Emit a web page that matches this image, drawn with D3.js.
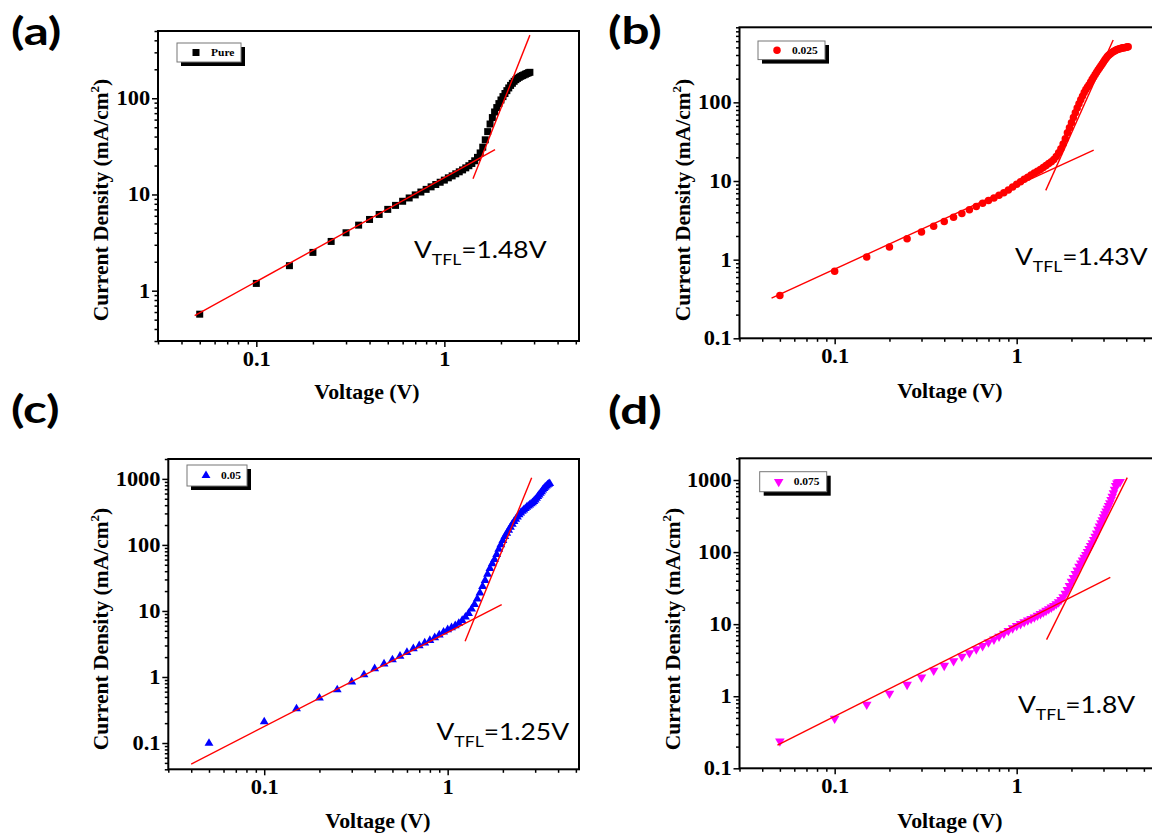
<!DOCTYPE html>
<html>
<head>
<meta charset="utf-8">
<script src="https://cdn.jsdelivr.net/npm/d3@7"></script>
<style>
  body { margin: 0; background: #fff; }
  svg { display: block; }
</style>
</head>
<body>
<div id="chart"></div>
<script>
// voltage steps of the sweep (V), shared by the four samples
var voltage = [0.05,0.10,0.15,0.20,0.25,0.30,0.35,0.40,0.45,0.50,
    0.55,0.60,0.65,0.70,0.75,0.80,0.85,0.90,0.95,1.00,
    1.05,1.10,1.15,1.20,1.25,1.30,1.35,1.40,1.45,1.50,
    1.55,1.60,1.65,1.70,1.75,1.80,1.85,1.90,1.95,2.00,
    2.05,2.10,2.15,2.20,2.25,2.30,2.35,2.40,2.45,2.50,
    2.55,2.60,2.65,2.70,2.75,2.80,2.85,2.90,2.95,3.00,
    3.05,3.10,3.15,3.20,3.25,3.30,3.35,3.40,3.45,3.50,
    3.55,3.60,3.65,3.70,3.75,3.80,3.85,3.90,3.95,4.00,
    4.05,4.10]

// current density (mA/cm2), one value per voltage step
var jPure = [0.57,1.19,1.82,2.50,3.25,4.0,4.8,5.5,6.2,7.0,
    7.7,8.5,9.2,9.9,10.6,11.3,12.0,12.7,13.4,14.1,
    14.9,15.6,16.4,17.2,18.0,18.9,19.9,21.0,22.4,24.3,
    27.0,31,37,45,54,63,72,80,88,96,
    104,112,120,128,136,143,150,156,161,165,
    169,172,175,178,181,184,186]
var j025 = [0.35,0.71,1.08,1.45,1.85,2.25,2.65,3.05,3.45,3.85,
    4.3,4.75,5.2,5.65,6.1,6.6,7.1,7.7,8.4,9.1,
    9.8,10.5,11.2,11.9,12.6,13.3,14.0,14.8,15.7,16.7,
    17.6,18.8,20.5,22.8,25.8,29.5,34.5,41,47.5,55,
    64,74,85,96,108,120,133,146,157,168,
    182,196,210,226,242,258,273,290,308,326,
    345,365,383,398,410,421,432,442,451,459,
    466,472,477,482,486,490,493,496,499,502,
    505,508]
var j05 = [0.099,0.21,0.33,0.48,0.64,0.84,1.08,1.34,1.58,1.82,
    2.07,2.36,2.68,2.98,3.28,3.58,3.95,4.35,4.8,5.2,
    5.6,6.0,6.5,7.2,8.1,9.2,10.7,12.6,15.2,18.8,
    23.5,29,36,44,52,60,72,86,101,117,
    134,150,167,186,206,226,246,266,286,305,
    323,340,356,372,388,404,420,437,455,480,
    508,540,572,605,642,680,715,750,780,810,
    832,850]
var j075 = [0.238,0.49,0.77,1.09,1.45,1.83,2.27,2.66,3.09,3.55,
    3.98,4.5,5.0,5.6,6.15,6.75,7.4,8.1,8.8,9.5,
    10.1,10.7,11.3,11.9,12.5,13.2,13.9,14.6,15.4,16.2,
    17.1,18.0,19.0,20.2,21.7,23.8,26.5,30,34,39,
    44,50,56,63,70,77,84,92,101,111,
    122,134,148,164,182,205,228,252,278,306,
    336,368,403,440,480,530,590,660,740,830,
    900,930,940,945]

// fitted lines [V, J] end points: ohmic part and trap filled part
var fitPure = [[[0.047, 0.55], [1.86, 29.2]], [[1.42, 14.6], [2.85, 453]]]
var fit025 = [[[0.045, 0.324], [2.65, 24.7]], [[1.445, 7.6], [3.39, 622]]]
var fit05 = [[[0.040, 0.048], [1.97, 12.5]], [[1.245, 3.49], [2.87, 1040]]]
var fit075 = [[[0.0485, 0.21], [3.27, 44.5]], [[1.46, 6.1], [4.05, 1080]]]

// tick labels
var xTicks = [0.1, 1]
var yTicksA = [1, 10, 100]
var yTicksB = [0.1, 1, 10, 100]
var yTicksC = [0.1, 1, 10, 100, 1000]
var yTicksD = [0.1, 1, 10, 100, 1000]

var names = ["Pure", "0.025", "0.05", "0.075"]
var vtfl = ["1.48V", "1.43V", "1.25V", "1.8V"]

var serif = "'Liberation Serif', 'Times New Roman', serif"
var sans = "Lato, 'Open Sans', sans-serif"

// layout of the four panels
var panels = [
    {tag: "(a)", tagPos: [11, 45], j: jPure, fits: fitPure, color: "#000000", symbol: d3.symbolSquare, size: 49, rot: 0,
     box: {left: 158, right: 579, top: 31, bottom: 341}, xDomain: [0.03, 5.2], yDomain: [0.3, 500], yTicks: yTicksA,
     legend: [177, 43, 64, 19], vPos: [414, 258], xTitle: [367, 399], yTitle: [107.5, 200]},
    {tag: "(b)", tagPos: [608, 44], j: j025, fits: fit025, color: "#ff0000", symbol: d3.symbolCircle, size: 44, rot: 0,
     box: {left: 739.5, right: 1158.3, top: 27.3, bottom: 338.3}, xDomain: [0.03, 6], yDomain: [0.1, 900], yTicks: yTicksB,
     legend: [758, 41, 67, 18.6], vPos: [1015, 265], xTitle: [950, 398], yTitle: [690, 200]},
    {tag: "(c)", tagPos: [11, 423], j: j05, fits: fit05, color: "#0000ff", symbol: d3.symbolTriangle, size: 34, rot: 0,
     box: {left: 168.3, right: 579, top: 459, bottom: 769.3}, xDomain: [0.03, 5.2], yDomain: [0.04, 2000], yTicks: yTicksC,
     legend: [187, 465, 60, 21], vPos: [436.5, 740], xTitle: [378, 828], yTitle: [108, 629]},
    {tag: "(d)", tagPos: [608, 424], j: j075, fits: fit075, color: "#ff00ff", symbol: d3.symbolTriangle, size: 40, rot: 180,
     box: {left: 739.5, right: 1158.3, top: 458.3, bottom: 768.3}, xDomain: [0.03, 6], yDomain: [0.1, 2000], yTicks: yTicksD,
     legend: [759.7, 471.7, 67, 20], vPos: [1018, 713], xTitle: [950, 828], yTitle: [679.5, 629]}
]

var svg = d3.select("#chart")
    .append("svg")
        .attr("width", 1152)
        .attr("height", 834)

svg.append("rect")
    .attr("width", 1152)
    .attr("height", 834)
    .attr("fill", "#fff")

function isDecade(d){
    var l = Math.log10(d)
    return Math.abs(l - Math.round(l)) < 1e-6
}

// text that is a bit wider than the font, as in the picture
function wideText(g, pos, sx){
    return g.append("text")
        .attr("transform", "translate(" + pos[0] + "," + pos[1] + ") scale(" + sx + ",1)")
}

function drawPanel(p, i){
    var b = p.box
    var x = d3.scaleLog().domain(p.xDomain).range([b.left, b.right])
    var y = d3.scaleLog().domain(p.yDomain).range([b.bottom, b.top])
    var g = svg.append("g")

    // minor ticks
    g.append("g")
        .attr("transform", "translate(0," + b.bottom + ")")
        .call(d3.axisBottom(x).tickValues(x.ticks().filter(d => !isDecade(d))).tickSize(3.5).tickFormat(""))
    g.append("g")
        .attr("transform", "translate(" + b.left + ",0)")
        .call(d3.axisLeft(y).tickValues(y.ticks().filter(d => !isDecade(d))).tickSize(3.5).tickFormat(""))

    // major ticks
    g.append("g")
        .attr("transform", "translate(0," + b.bottom + ")")
        .call(d3.axisBottom(x).tickValues(xTicks).tickSize(6).tickPadding(5).tickFormat(d => String(d)))
    g.append("g")
        .attr("transform", "translate(" + b.left + ",0)")
        .call(d3.axisLeft(y).tickValues(p.yTicks).tickSize(6).tickPadding(1).tickFormat(d => String(d)))

    g.selectAll(".domain").remove()
    g.selectAll(".tick line").attr("stroke", "#000").attr("stroke-width", 1.5)
    g.selectAll(".tick text")
        .attr("fill", "#000")
        .attr("transform", "scale(1.12,1)")
        .style("font-family", serif)
        .style("font-weight", "bold")
        .style("font-size", "20px")

    // frame
    g.append("rect")
        .attr("x", b.left)
        .attr("y", b.top)
        .attr("width", b.right - b.left)
        .attr("height", b.bottom - b.top)
        .attr("fill", "none")
        .attr("stroke", "#000")
        .attr("stroke-width", 2)

    // points
    var n = p.j.length
    var pts = voltage.slice(0, n).map((v, k) => [v, p.j[k]])
    var sym = d3.symbol().type(p.symbol).size(p.size)
    g.append("g")
        .selectAll("path")
        .data(pts)
        .enter()
        .append("path")
            .attr("d", sym)
            .attr("transform", d => "translate(" + x(d[0]) + "," + y(d[1]) + ") rotate(" + p.rot + ")")
            .attr("fill", p.color)

    // fitted lines
    g.append("g")
        .selectAll("line")
        .data(p.fits)
        .enter()
        .append("line")
            .attr("x1", d => x(d[0][0]))
            .attr("y1", d => y(d[0][1]))
            .attr("x2", d => x(d[1][0]))
            .attr("y2", d => y(d[1][1]))
            .attr("stroke", "#ff0000")
            .attr("stroke-width", 1.4)

    // legend
    var L = p.legend
    g.append("rect")
        .attr("x", L[0] + 4).attr("y", L[1] + 4)
        .attr("width", L[2]).attr("height", L[3])
        .attr("fill", "#000")
    g.append("rect")
        .attr("x", L[0]).attr("y", L[1])
        .attr("width", L[2]).attr("height", L[3])
        .attr("fill", "#fff")
        .attr("stroke", "#777")
        .attr("stroke-width", 1)
    g.append("path")
        .attr("d", sym)
        .attr("transform", "translate(" + (L[0] + 19) + "," + (L[1] + L[3] / 2) + ") rotate(" + p.rot + ")")
        .attr("fill", p.color)
    wideText(g, [L[0] + 34, L[1] + L[3] / 2 + 3.5], 1.15)
        .style("font-family", serif)
        .style("font-weight", "bold")
        .style("font-size", "10px")
        .text(names[i])

    // V_TFL note
    var t = wideText(g, p.vPos, 1.1)
        .style("font-family", sans)
        .style("font-size", "24px")
    t.append("tspan").text("V")
    t.append("tspan").attr("dy", 7).style("font-size", "16px").text("TFL")
    t.append("tspan").attr("dy", -7).text("=" + vtfl[i])

    // axis titles
    wideText(g, p.xTitle, 1.04)
        .attr("text-anchor", "middle")
        .style("font-family", serif)
        .style("font-weight", "bold")
        .style("font-size", "21px")
        .text("Voltage (V)")

    var yt = g.append("text")
        .attr("transform", "translate(" + p.yTitle[0] + "," + p.yTitle[1] + ") rotate(-90)")
        .attr("text-anchor", "middle")
        .style("font-family", serif)
        .style("font-weight", "bold")
        .style("font-size", "21.5px")
    yt.append("tspan").text("Current Density (mA/cm")
    yt.append("tspan").attr("dy", -9).style("font-size", "13px").text("2")
    yt.append("tspan").attr("dy", 9).text(")")

    // panel letter
    wideText(g, p.tagPos, 1.3)
        .style("font-family", sans)
        .style("font-weight", "bold")
        .style("font-size", "38px")
        .text(p.tag)
}

panels.forEach(drawPanel)
</script>
</body>
</html>
